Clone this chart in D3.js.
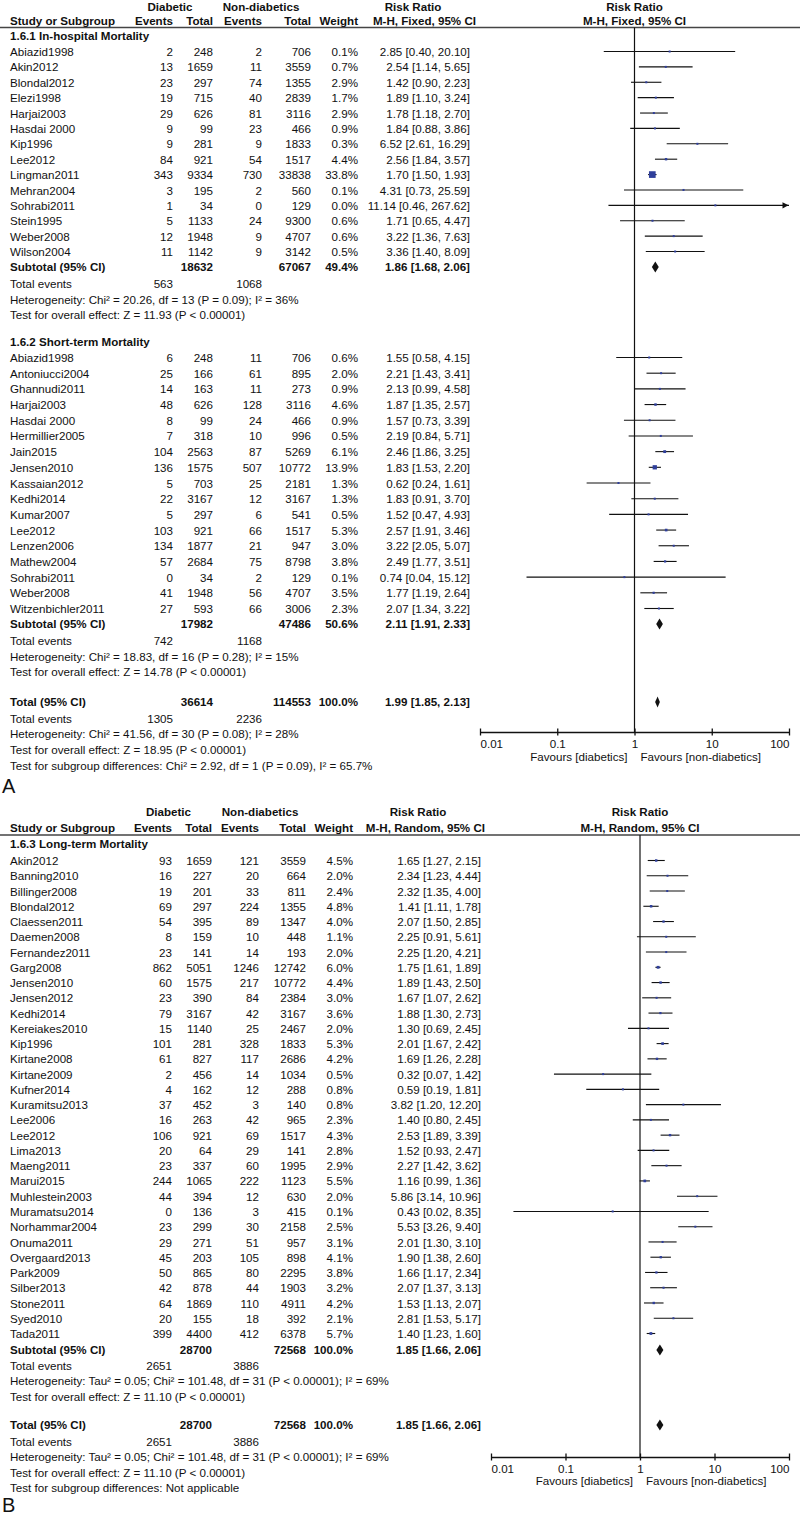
<!DOCTYPE html>
<html><head><meta charset="utf-8">
<script src="https://cdn.jsdelivr.net/npm/d3@7"></script>
<style>
body{margin:0;background:#fff}
svg{display:block}
text{font-family:Arial,"Liberation Sans",sans-serif;fill:#111}
</style>
</head><body>
<svg id="c" width="800" height="1515"></svg>
<script>
// ---------- DATA ----------
// [study, diabetic events, diabetic total, non-diabetic events, non-diabetic total, weight %, RR, lower, upper]
const inHospitalRows = [
  ["Abiazid1998",2,248,2,706,0.1,2.85,0.40,20.10],
  ["Akin2012",13,1659,11,3559,0.7,2.54,1.14,5.65],
  ["Blondal2012",23,297,74,1355,2.9,1.42,0.90,2.23],
  ["Elezi1998",19,715,40,2839,1.7,1.89,1.10,3.24],
  ["Harjai2003",29,626,81,3116,2.9,1.78,1.18,2.70],
  ["Hasdai 2000",9,99,23,466,0.9,1.84,0.88,3.86],
  ["Kip1996",9,281,9,1833,0.3,6.52,2.61,16.29],
  ["Lee2012",84,921,54,1517,4.4,2.56,1.84,3.57],
  ["Lingman2011",343,9334,730,33838,33.8,1.70,1.50,1.93],
  ["Mehran2004",3,195,2,560,0.1,4.31,0.73,25.59],
  ["Sohrabi2011",1,34,0,129,0.0,11.14,0.46,267.62],
  ["Stein1995",5,1133,24,9300,0.6,1.71,0.65,4.47],
  ["Weber2008",12,1948,9,4707,0.6,3.22,1.36,7.63],
  ["Wilson2004",11,1142,9,3142,0.5,3.36,1.40,8.09]
];
const inHospitalSubtotal = [18632, 67067, 49.4, 1.86, 1.68, 2.06];
const inHospitalEvents = [563, 1068];
const inHospitalStats = [
  "Heterogeneity: Chi\u00b2 = 20.26, df = 13 (P = 0.09); I\u00b2 = 36%",
  "Test for overall effect: Z = 11.93 (P < 0.00001)"
];

const shortTermRows = [
  ["Abiazid1998",6,248,11,706,0.6,1.55,0.58,4.15],
  ["Antoniucci2004",25,166,61,895,2.0,2.21,1.43,3.41],
  ["Ghannudi2011",14,163,11,273,0.9,2.13,0.99,4.58],
  ["Harjai2003",48,626,128,3116,4.6,1.87,1.35,2.57],
  ["Hasdai 2000",8,99,24,466,0.9,1.57,0.73,3.39],
  ["Hermillier2005",7,318,10,996,0.5,2.19,0.84,5.71],
  ["Jain2015",104,2563,87,5269,6.1,2.46,1.86,3.25],
  ["Jensen2010",136,1575,507,10772,13.9,1.83,1.53,2.20],
  ["Kassaian2012",5,703,25,2181,1.3,0.62,0.24,1.61],
  ["Kedhi2014",22,3167,12,3167,1.3,1.83,0.91,3.70],
  ["Kumar2007",5,297,6,541,0.5,1.52,0.47,4.93],
  ["Lee2012",103,921,66,1517,5.3,2.57,1.91,3.46],
  ["Lenzen2006",134,1877,21,947,3.0,3.22,2.05,5.07],
  ["Mathew2004",57,2684,75,8798,3.8,2.49,1.77,3.51],
  ["Sohrabi2011",0,34,2,129,0.1,0.74,0.04,15.12],
  ["Weber2008",41,1948,56,4707,3.5,1.77,1.19,2.64],
  ["Witzenbichler2011",27,593,66,3006,2.3,2.07,1.34,3.22]
];
const shortTermSubtotal = [17982, 47486, 50.6, 2.11, 1.91, 2.33];
const shortTermEvents = [742, 1168];
const shortTermStats = [
  "Heterogeneity: Chi\u00b2 = 18.83, df = 16 (P = 0.28); I\u00b2 = 15%",
  "Test for overall effect: Z = 14.78 (P < 0.00001)"
];

const totalA = [36614, 114553, 100.0, 1.99, 1.85, 2.13];
const totalAEvents = [1305, 2236];
const totalAStats = [
  "Heterogeneity: Chi\u00b2 = 41.56, df = 30 (P = 0.08); I\u00b2 = 28%",
  "Test for overall effect: Z = 18.95 (P < 0.00001)",
  "Test for subgroup differences: Chi\u00b2 = 2.92, df = 1 (P = 0.09), I\u00b2 = 65.7%"
];

const longTermRows = [
  ["Akin2012",93,1659,121,3559,4.5,1.65,1.27,2.15],
  ["Banning2010",16,227,20,664,2.0,2.34,1.23,4.44],
  ["Billinger2008",19,201,33,811,2.4,2.32,1.35,4.00],
  ["Blondal2012",69,297,224,1355,4.8,1.41,1.11,1.78],
  ["Claessen2011",54,395,89,1347,4.0,2.07,1.50,2.85],
  ["Daemen2008",8,159,10,448,1.1,2.25,0.91,5.61],
  ["Fernandez2011",23,141,14,193,2.0,2.25,1.20,4.21],
  ["Garg2008",862,5051,1246,12742,6.0,1.75,1.61,1.89],
  ["Jensen2010",60,1575,217,10772,4.4,1.89,1.43,2.50],
  ["Jensen2012",23,390,84,2384,3.0,1.67,1.07,2.62],
  ["Kedhi2014",79,3167,42,3167,3.6,1.88,1.30,2.73],
  ["Kereiakes2010",15,1140,25,2467,2.0,1.30,0.69,2.45],
  ["Kip1996",101,281,328,1833,5.3,2.01,1.67,2.42],
  ["Kirtane2008",61,827,117,2686,4.2,1.69,1.26,2.28],
  ["Kirtane2009",2,456,14,1034,0.5,0.32,0.07,1.42],
  ["Kufner2014",4,162,12,288,0.8,0.59,0.19,1.81],
  ["Kuramitsu2013",37,452,3,140,0.8,3.82,1.20,12.20],
  ["Lee2006",16,263,42,965,2.3,1.40,0.80,2.45],
  ["Lee2012",106,921,69,1517,4.3,2.53,1.89,3.39],
  ["Lima2013",20,64,29,141,2.8,1.52,0.93,2.47],
  ["Maeng2011",23,337,60,1995,2.9,2.27,1.42,3.62],
  ["Marui2015",244,1065,222,1123,5.5,1.16,0.99,1.36],
  ["Muhlestein2003",44,394,12,630,2.0,5.86,3.14,10.96],
  ["Muramatsu2014",0,136,3,415,0.1,0.43,0.02,8.35],
  ["Norhammar2004",23,299,30,2158,2.5,5.53,3.26,9.40],
  ["Onuma2011",29,271,51,957,3.1,2.01,1.30,3.10],
  ["Overgaard2013",45,203,105,898,4.1,1.90,1.38,2.60],
  ["Park2009",50,865,80,2295,3.8,1.66,1.17,2.34],
  ["Silber2013",42,878,44,1903,3.2,2.07,1.37,3.13],
  ["Stone2011",64,1869,110,4911,4.2,1.53,1.13,2.07],
  ["Syed2010",20,155,18,392,2.1,2.81,1.53,5.17],
  ["Tada2011",399,4400,412,6378,5.7,1.40,1.23,1.60]
];
const longTermSubtotal = [28700, 72568, 100.0, 1.85, 1.66, 2.06];
const longTermEvents = [2651, 3886];
const longTermStats = [
  "Heterogeneity: Tau\u00b2 = 0.05; Chi\u00b2 = 101.48, df = 31 (P < 0.00001); I\u00b2 = 69%",
  "Test for overall effect: Z = 11.10 (P < 0.00001)"
];
const totalB = [28700, 72568, 100.0, 1.85, 1.66, 2.06];
const totalBEvents = [2651, 3886];
const totalBStats = [
  "Heterogeneity: Tau\u00b2 = 0.05; Chi\u00b2 = 101.48, df = 31 (P < 0.00001); I\u00b2 = 69%",
  "Test for overall effect: Z = 11.10 (P < 0.00001)",
  "Test for subgroup differences: Not applicable"
];

const axisTicks = [0.01, 0.1, 1, 10, 100];
const axisTickLabels = ["0.01", "0.1", "1", "10", "100"];

// ---------- DRAWING ----------
const svg = d3.select('#c');
const FS = 11.6;
const INK = '#111';
const BLUE = '#2f3f9b';
const f2 = d3.format('.2f'), f1 = d3.format('.1f');
const ciStr = (r, l, h) => `${f2(r)} [${f2(l)}, ${f2(h)}]`;

function txt(g, x, y, s, anchor, bold, size) {
  return g.append('text')
    .attr('x', x).attr('y', y).attr('dy', '0.35em')
    .attr('text-anchor', anchor || 'start')
    .style('font-weight', bold ? 'bold' : 'normal')
    .style('font-size', (size || FS) + 'px')
    .text(s);
}

function drawPanel(P) {
  const g = svg.append('g');
  const x = d3.scaleLog().domain([0.01, 100]).range([P.px0, P.px1]);
  const C = P.cols;
  const x1 = x(1);

  // headers
  txt(g, C.diabHdr, P.yH1, 'Diabetic', 'middle', true);
  txt(g, C.nonHdr, P.yH1, 'Non-diabetics', 'middle', true);
  txt(g, C.rrHdr, P.yH1, 'Risk Ratio', 'middle', true);
  txt(g, x1, P.yH1, 'Risk Ratio', 'middle', true);
  txt(g, C.name, P.yH2, 'Study or Subgroup', 'start', true);
  txt(g, C.ev1, P.yH2, 'Events', 'end', true);
  txt(g, C.tot1, P.yH2, 'Total', 'end', true);
  txt(g, C.ev2, P.yH2, 'Events', 'end', true);
  txt(g, C.tot2, P.yH2, 'Total', 'end', true);
  txt(g, C.wt, P.yH2, 'Weight', 'end', true);
  txt(g, C.mhHdr, P.yH2, P.method, 'end', true);
  txt(g, x1, P.yH2, P.method, 'middle', true);

  g.append('line').attr('x1', 0).attr('x2', 800)
    .attr('y1', P.yRule).attr('y2', P.yRule)
    .attr('stroke', '#444').attr('stroke-width', 1.6);

  // vertical null line
  g.append('line').attr('x1', x1).attr('x2', x1)
    .attr('y1', P.yRule).attr('y2', P.yAxis)
    .attr('stroke', INK).attr('stroke-width', 1.2);

  function summaryRow(y, label, vals) {
    txt(g, C.name, y, label, 'start', true);
    txt(g, C.tot1, y, vals[0], 'end', true);
    txt(g, C.tot2, y, vals[1], 'end', true);
    txt(g, C.wt, y, f1(vals[2]) + '%', 'end', true);
    txt(g, C.ci, y, ciStr(vals[3], vals[4], vals[5]), 'end', true);
    const h = 5.5;
    g.append('polygon')
      .attr('points', [[x(vals[4]), y], [x(vals[3]), y - h], [x(vals[5]), y], [x(vals[3]), y + h]].map(p => p.join(',')).join(' '))
      .attr('fill', INK);
  }
  function eventsRow(y, ev) {
    txt(g, C.name, y, 'Total events', 'start', false);
    txt(g, C.ev1, y, ev[0], 'end', false);
    txt(g, C.ev2, y, ev[1], 'end', false);
  }

  P.sections.forEach(s => {
    txt(g, C.name, s.yTitle, s.title, 'start', true);
    const y = d3.scalePoint().domain(s.rows.map((d, i) => d[0] + '|' + i)).range([s.yFirst, s.yLast]);
    s.rows.forEach((d, i) => {
      const yy = y(d[0] + '|' + i);
      txt(g, C.name, yy, d[0], 'start', false);
      txt(g, C.ev1, yy, d[1], 'end', false);
      txt(g, C.tot1, yy, d[2], 'end', false);
      txt(g, C.ev2, yy, d[3], 'end', false);
      txt(g, C.tot2, yy, d[4], 'end', false);
      txt(g, C.wt, yy, f1(d[5]) + '%', 'end', false);
      txt(g, C.ci, yy, ciStr(d[6], d[7], d[8]), 'end', false);
      const ly = yy - 0.5;
      const hiClamped = Math.min(d[8], 100);
      const loClamped = Math.max(d[7], 0.01);
      g.append('line').attr('x1', x(loClamped)).attr('x2', x(hiClamped))
        .attr('y1', ly).attr('y2', ly).attr('stroke', INK).attr('stroke-width', 1.1);
      if (d[8] > 100) {
        const xe = x(100) - 0.5;
        g.append('polygon')
          .attr('points', `${xe - 6},${ly - 3.2} ${xe},${ly} ${xe - 6},${ly + 3.2}`)
          .attr('fill', INK);
      }
      const side = Math.max(2, 1.15 * Math.sqrt(d[5]));
      g.append('rect').attr('x', x(d[6]) - side / 2).attr('y', ly - side / 2)
        .attr('width', side).attr('height', side).attr('fill', BLUE);
    });
    summaryRow(s.ySub, 'Subtotal (95% CI)', s.sub);
    eventsRow(s.yEv, s.ev);
    s.stats.forEach((t, i) => txt(g, C.name, s.yStats[i], t, 'start', false));
  });

  // overall total
  summaryRow(P.yTotal, 'Total (95% CI)', P.total);
  eventsRow(P.yTotEv, P.totalEv);
  P.totalStats.forEach((t, i) => txt(g, C.name, P.yTotStats[i], t, 'start', false));

  // axis
  const ax = g.append('g').attr('transform', `translate(0,${P.yAxis})`)
    .call(d3.axisBottom(x).tickValues(axisTicks)
      .tickFormat((d, i) => axisTickLabels[i]).tickSizeOuter(0).tickSizeInner(3.5));
  ax.select('.domain').attr('stroke', INK).attr('stroke-width', 1.5);
  ax.selectAll('.tick line').attr('y1', -3.5).attr('y2', 3.5).attr('stroke', INK).attr('stroke-width', 1.3);
  ax.selectAll('.tick text')
    .attr('y', P.yTick - P.yAxis).attr('dy', '0.35em')
    .style('font-size', FS + 'px').style('font-family', 'Arial, "Liberation Sans", sans-serif')
    .attr('fill', INK)
    .attr('text-anchor', (d, i) => i === 0 ? 'start' : (i === axisTicks.length - 1 ? 'end' : 'middle'));
  txt(g, x1 - 7, P.yFav, 'Favours [diabetics]', 'end', false);
  txt(g, x1 + 6, P.yFav, 'Favours [non-diabetics]', 'start', false);

  txt(g, 2, P.yLabel, P.label, 'start', false, 20);
}

drawPanel({
  label: 'A', yLabel: 786,
  method: 'M-H, Fixed, 95% CI',
  px0: 480, px1: 789,
  cols: {name: 10, ev1: 173, tot1: 213, ev2: 262, tot2: 311, wt: 358, ci: 470,
         diabHdr: 170, nonHdr: 261, rrHdr: 413, mhHdr: 476},
  yH1: 6.5, yH2: 20.5, yRule: 27.5,
  sections: [
    {title: '1.6.1 In-hospital Mortality', yTitle: 36, rows: inHospitalRows, yFirst: 52, yLast: 252,
     sub: inHospitalSubtotal, ySub: 267, ev: inHospitalEvents, yEv: 284, stats: inHospitalStats, yStats: [300, 315]},
    {title: '1.6.2 Short-term Mortality', yTitle: 342, rows: shortTermRows, yFirst: 358, yLast: 609,
     sub: shortTermSubtotal, ySub: 624, ev: shortTermEvents, yEv: 641, stats: shortTermStats, yStats: [657, 672]}
  ],
  total: totalA, yTotal: 702, totalEv: totalAEvents, yTotEv: 719,
  totalStats: totalAStats, yTotStats: [734, 750, 766],
  yAxis: 732, yTick: 744, yFav: 757
});

drawPanel({
  label: 'B', yLabel: 1505,
  method: 'M-H, Random, 95% CI',
  px0: 491, px1: 789,
  cols: {name: 10, ev1: 172, tot1: 212, ev2: 259, tot2: 306, wt: 353, ci: 481,
         diabHdr: 168.5, nonHdr: 260, rrHdr: 418, mhHdr: 485},
  yH1: 812, yH2: 828, yRule: 835,
  sections: [
    {title: '1.6.3 Long-term Mortality', yTitle: 844, rows: longTermRows, yFirst: 861, yLast: 1334,
     sub: longTermSubtotal, ySub: 1350, ev: longTermEvents, yEv: 1366, stats: longTermStats, yStats: [1381, 1397]}
  ],
  total: totalB, yTotal: 1425, totalEv: totalBEvents, yTotEv: 1442,
  totalStats: totalBStats, yTotStats: [1457, 1473, 1488],
  yAxis: 1457, yTick: 1469, yFav: 1481
});
</script>
</body></html>
